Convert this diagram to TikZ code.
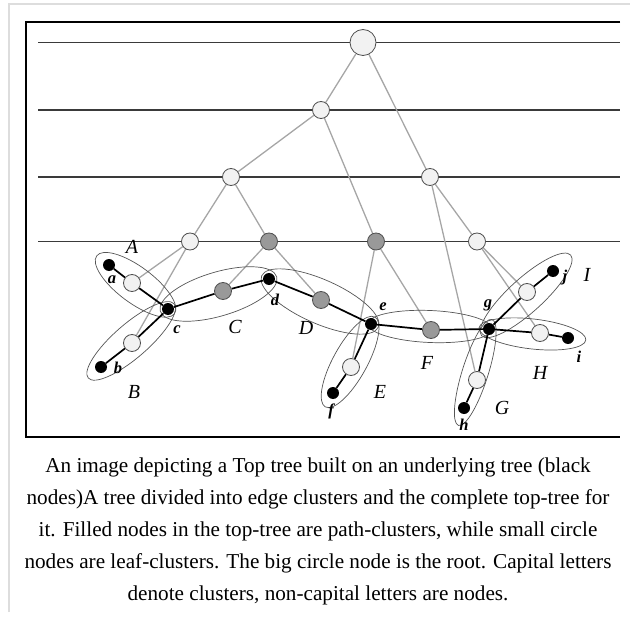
\documentclass[tikz,border=0pt]{standalone}
\usepackage{fontspec}
\setmainfont{Liberation Serif}
\usetikzlibrary{calc, backgrounds}

\tikzset{
    leafnode/.style={circle, draw=nodeBorder, fill=leafFill, line width=0.8pt, minimum size=17pt, inner sep=0pt},
    pathnode/.style={leafnode, fill=pathFill},
    rootnode/.style={leafnode, minimum size=26pt},
    treenode/.style={circle, fill=black, minimum size=12pt, inner sep=0pt},
    topedge/.style={draw=edgeGrey, line width=1.3pt},
    treeedge/.style={draw=black, line width=1.7pt},
    cluster/.style={draw=clusterGrey, line width=0.7pt},
    levelline/.style={draw=levelGrey, line width=1.2pt},
    nodelabel/.style={font=\fontsize{16.5}{16.5}\selectfont\bfseries\itshape, inner sep=0pt},
    clusterlabel/.style={font=\fontsize{20}{20}\selectfont\itshape, inner sep=0pt},
    captext/.style={font=\fontsize{21.2}{21.2}\selectfont, inner sep=0pt, anchor=base}
}

\begin{document}
\begin{tikzpicture}[x=1pt, y=-1pt]
    % Define colours
    \definecolor{frameGrey}{HTML}{DDDDDD}
    \definecolor{levelGrey}{HTML}{3A3A3A}
    \definecolor{edgeGrey}{HTML}{A6A6A6}
    \definecolor{clusterGrey}{HTML}{555555}
    \definecolor{nodeBorder}{HTML}{505050}
    \definecolor{leafFill}{HTML}{F2F2F2}
    \definecolor{pathFill}{HTML}{999999}

    \useasboundingbox (0,0) rectangle (630,618);

    % Draw page border and frame
    \draw[frameGrey, line width=1.2pt] (9,612) -- (9,4) -- (630,4);
    \draw[line width=1.4pt] (620,22) -- (26,22) -- (26,437) -- (620,437);

    % Top tree nodes
    \node[rootnode] (root) at (363,42.5) {};
    \node[leafnode] (u1) at (321,110) {};
    \node[leafnode] (u2) at (231,177) {};
    \node[leafnode] (u3) at (430,177) {};
    \node[leafnode] (u4) at (190,241.5) {};
    \node[pathnode] (u5) at (269,241.5) {};
    \node[pathnode] (u6) at (376,241.5) {};
    \node[leafnode] (u7) at (477,241.5) {};

    % Cluster nodes
    \node[leafnode] (cA) at (132,283) {};
    \node[leafnode] (cB) at (132,343) {};
    \node[pathnode] (cC) at (223,291) {};
    \node[pathnode] (cD) at (321,300) {};
    \node[leafnode] (cE) at (351,367) {};
    \node[pathnode] (cF) at (431,330) {};
    \node[leafnode] (cG) at (477,380) {};
    \node[leafnode] (cH) at (540,333) {};
    \node[leafnode] (cI) at (527,292) {};

    % Underlying tree nodes
    \foreach \n/\x/\y in {a/109/265, b/101/367, c/168/309, d/269/279, e/371/324,
                          f/333/393, g/489/329, h/464/408, i/568/338, j/553/271}
        \node[treenode] (\n) at (\x,\y) {};

    \begin{pgfonlayer}{background}
        % Draw level lines
        \foreach \y in {42.5,110,177,241.5}
            \draw[levelline] (38,\y) -- (620,\y);

        % Draw top tree edges
        \foreach \p/\q in {root/u1, root/u3, u1/u2, u1/u6, u2/u4, u2/u5, u3/u7, u3/cG,
                           u4/cA, u4/cB, u5/cC, u5/cD, u6/cE, u6/cF, u7/cI, u7/cH}
            \draw[topedge] (\p) -- (\q);

        % Draw cluster ellipses (hub, end, fraction, extra, half width)
        \foreach \u/\v/\f/\e/\h in {c/a/0.55/8/18, c/b/0.55/8/17, c/d/0.5/8/22, d/e/0.5/8/22,
                                    e/f/0.55/8/17, e/g/0.5/3/16, g/h/0.55/10/13, g/i/0.55/10/15,
                                    g/j/0.58/10/17}
            \draw[cluster] let \p1=($(\v)-(\u)$), \n1={atan2(\y1,\x1)}, \n2={\f*veclen(\x1,\y1)+\e} in
                ($(\u)!\f!(\v)$) ellipse[x radius=\n2, y radius=\h pt, rotate=\n1];

        % Draw underlying tree edges
        \foreach \p/\q in {a/cA, cA/c, b/cB, cB/c, c/cC, cC/d, d/cD, cD/e, e/cE, cE/f,
                           e/cF, cF/g, g/cG, cG/h, g/cH, cH/i, g/cI, cI/j}
            \draw[treeedge] (\p) -- (\q);
    \end{pgfonlayer}

    % Label nodes
    \foreach \n/\x/\y in {a/112/280, b/118/368, c/177/330, d/275/300, e/383/307,
                          f/331/411, g/488/305, h/464/425, i/579/357, j/565/278}
        \node[nodelabel] (l\n) at (\x,\y) {\n};

    % Label clusters
    \foreach \n/\x/\y in {A/132/247, B/134/392, C/235/327, D/306/328, E/380/392,
                          F/427/363, G/502/408, H/540/373, I/587/275}
        \node[clusterlabel] (l\n) at (\x,\y) {\n};

    % Caption
    \foreach \t [count=\k] in {{An image depicting a Top tree built on an underlying tree (black},
                               {nodes)A tree divided into edge clusters and the complete top-tree for},
                               {it. Filled nodes in the top-tree are path-clusters, while small circle},
                               {nodes are leaf-clusters. The big circle node is the root. Capital letters},
                               {denote clusters, non-capital letters are nodes.}}
        \node[captext] (cap\k) at (318,{472+(\k-1)*32}) {\t};
\end{tikzpicture}
\end{document}
